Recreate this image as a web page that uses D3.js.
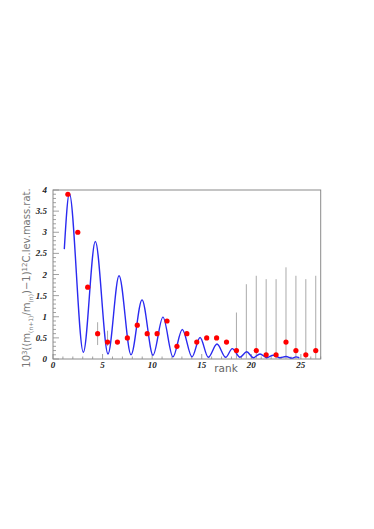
<!DOCTYPE html>
<html><head><meta charset="utf-8">
<script src="https://cdn.jsdelivr.net/npm/d3@7"></script>
<style>body{margin:0;background:#fff}</style>
</head><body>
<script>
// data
const rank = [1,2,3,4,5,6,7,8,9,10,11,12,13,14,15,16,17,18,19,20,21,22,23,24,25,26];
const ratio = [3.9,3.0,1.7,0.6,0.4,0.4,0.5,0.8,0.6,0.6,0.9,0.3,0.6,0.4,0.5,0.5,0.4,0.2,null,0.2,0.1,0.1,0.4,0.2,0.1,0.2];
const errLow = [3.9,3.0,1.7,0.33,0.31,0.4,0.5,0.8,0.6,0.6,0.9,0.3,0.6,0.4,0.5,0.5,0.4,0,0,0,0,0,0,0,0,0];
const errHigh = [3.9,3.0,1.7,0.87,0.67,0.4,0.5,0.8,0.6,0.6,0.9,0.3,0.6,0.4,0.5,0.5,0.4,1.1,1.77,1.97,1.89,1.89,2.17,1.97,1.89,1.97];
const fitX = [1.14,1.65,3.06,4.27,5.55,6.66,7.87,8.98,10.09,11.09,12.10,13.04,14.02,14.83,15.66,16.54,17.42,18.08,18.86,19.54,20.2,20.88,21.55,22.22,22.85,23.5,24.1,24.5,24.84];
const fitY = [2.6,3.92,0.16,2.78,0.12,1.97,0.10,1.40,0.09,0.99,0.05,0.70,0.05,0.51,0.04,0.355,0.04,0.245,0.04,0.17,0.03,0.12,0.03,0.09,0.03,0.06,0.02,0.05,0.03];
const xTicks = [0,5,10,15,20,25];
const yTicks = [0,0.5,1,1.5,2,2.5,3,3.5,4];

const W=374,H=529;
const L=53,R=320.7,T=190,B=359;
const svg=d3.select("body").append("svg").attr("width",W).attr("height",H);
const x=d3.scaleLinear().domain([0,27]).range([L,R]);
const y=d3.scaleLinear().domain([0,4]).range([B,T]);
const frameCol="#8a8a8a";

// frame
svg.append("rect").attr("x",L).attr("y",T).attr("width",R-L).attr("height",B-T)
  .attr("fill","none").attr("stroke",frameCol).attr("stroke-width",1);

// y ticks
const yMinor=d3.range(0,4.0001,0.1);
svg.append("g").selectAll("line").data(yMinor).join("line")
  .attr("x1",L).attr("x2",d=>Math.abs(d*2-Math.round(d*2))<1e-6?L+6:L+3)
  .attr("y1",d=>y(d)).attr("y2",d=>y(d)).attr("stroke",frameCol).attr("stroke-width",0.8);
svg.append("g").selectAll("text").data(yTicks).join("text")
  .attr("x",47).attr("y",d=>y(d)+3).attr("text-anchor","end")
  .attr("font-family","Liberation Serif").attr("font-weight","bold").attr("font-style","italic")
  .attr("font-size",9).attr("fill","#222").text(d=>d3.format("")(d));

// x ticks
const xMinor=d3.range(0,28,1);
svg.append("g").selectAll("line").data(xMinor).join("line")
  .attr("x1",d=>x(d)).attr("x2",d=>x(d)).attr("y1",B)
  .attr("y2",d=>d%5===0?B-5:B-2.5).attr("stroke",frameCol).attr("stroke-width",0.8);
svg.append("g").selectAll("text").data(xTicks).join("text")
  .attr("x",d=>x(d)).attr("y",B+9).attr("text-anchor","middle")
  .attr("font-family","Liberation Serif").attr("font-weight","bold").attr("font-style","italic")
  .attr("font-size",9).attr("fill","#222").text(d=>d);

// axis titles
svg.append("text").attr("x",226).attr("y",371.5).attr("text-anchor","middle")
  .attr("font-family","DejaVu Sans").attr("font-size",10.5).attr("fill","#666").text("rank");

const yt=svg.append("text").attr("transform","translate(30.3,278) rotate(-90)")
  .attr("text-anchor","middle").attr("font-family","DejaVu Sans").attr("font-size",10).attr("fill","#777");
yt.append("tspan").text("10");
yt.append("tspan").attr("dy",-3.5).attr("font-size",7).text("3");
yt.append("tspan").attr("dy",3.5).text("((m");
yt.append("tspan").attr("dy",2.5).attr("font-size",6).text("(n+1)");
yt.append("tspan").attr("dy",-2.5).text("/m");
yt.append("tspan").attr("dy",2.5).attr("font-size",6).text("(n)");
yt.append("tspan").attr("dy",-2.5).text(")\u22121)");
yt.append("tspan").attr("dy",-3.5).attr("font-size",7).text("12");
yt.append("tspan").attr("dy",3.5).text("C.lev.mass.rat.");

// error bars
svg.append("g").selectAll("line").data(rank).join("line")
  .attr("x1",d=>x(d+0.5)).attr("x2",d=>x(d+0.5))
  .attr("y1",(d,i)=>y(errLow[i])).attr("y2",(d,i)=>y(errHigh[i]))
  .attr("stroke","#aaa").attr("stroke-width",1);

// fit curve
const pts=fitX.map((v,i)=>[v,fitY[i]]);
svg.append("path").datum(pts)
  .attr("d",d3.line().x(d=>x(d[0])).y(d=>y(d[1])).curve(d3.curveMonotoneX))
  .attr("fill","none").attr("stroke","#2a2af0").attr("stroke-width",1.4);

// points
svg.append("g").selectAll("circle").data(rank.filter((d,i)=>ratio[i]!==null)).join("circle")
  .attr("cx",d=>x(d+0.5)).attr("cy",d=>y(ratio[d-1])).attr("r",2.6).attr("fill","#ff0000");
</script>
</body></html>
